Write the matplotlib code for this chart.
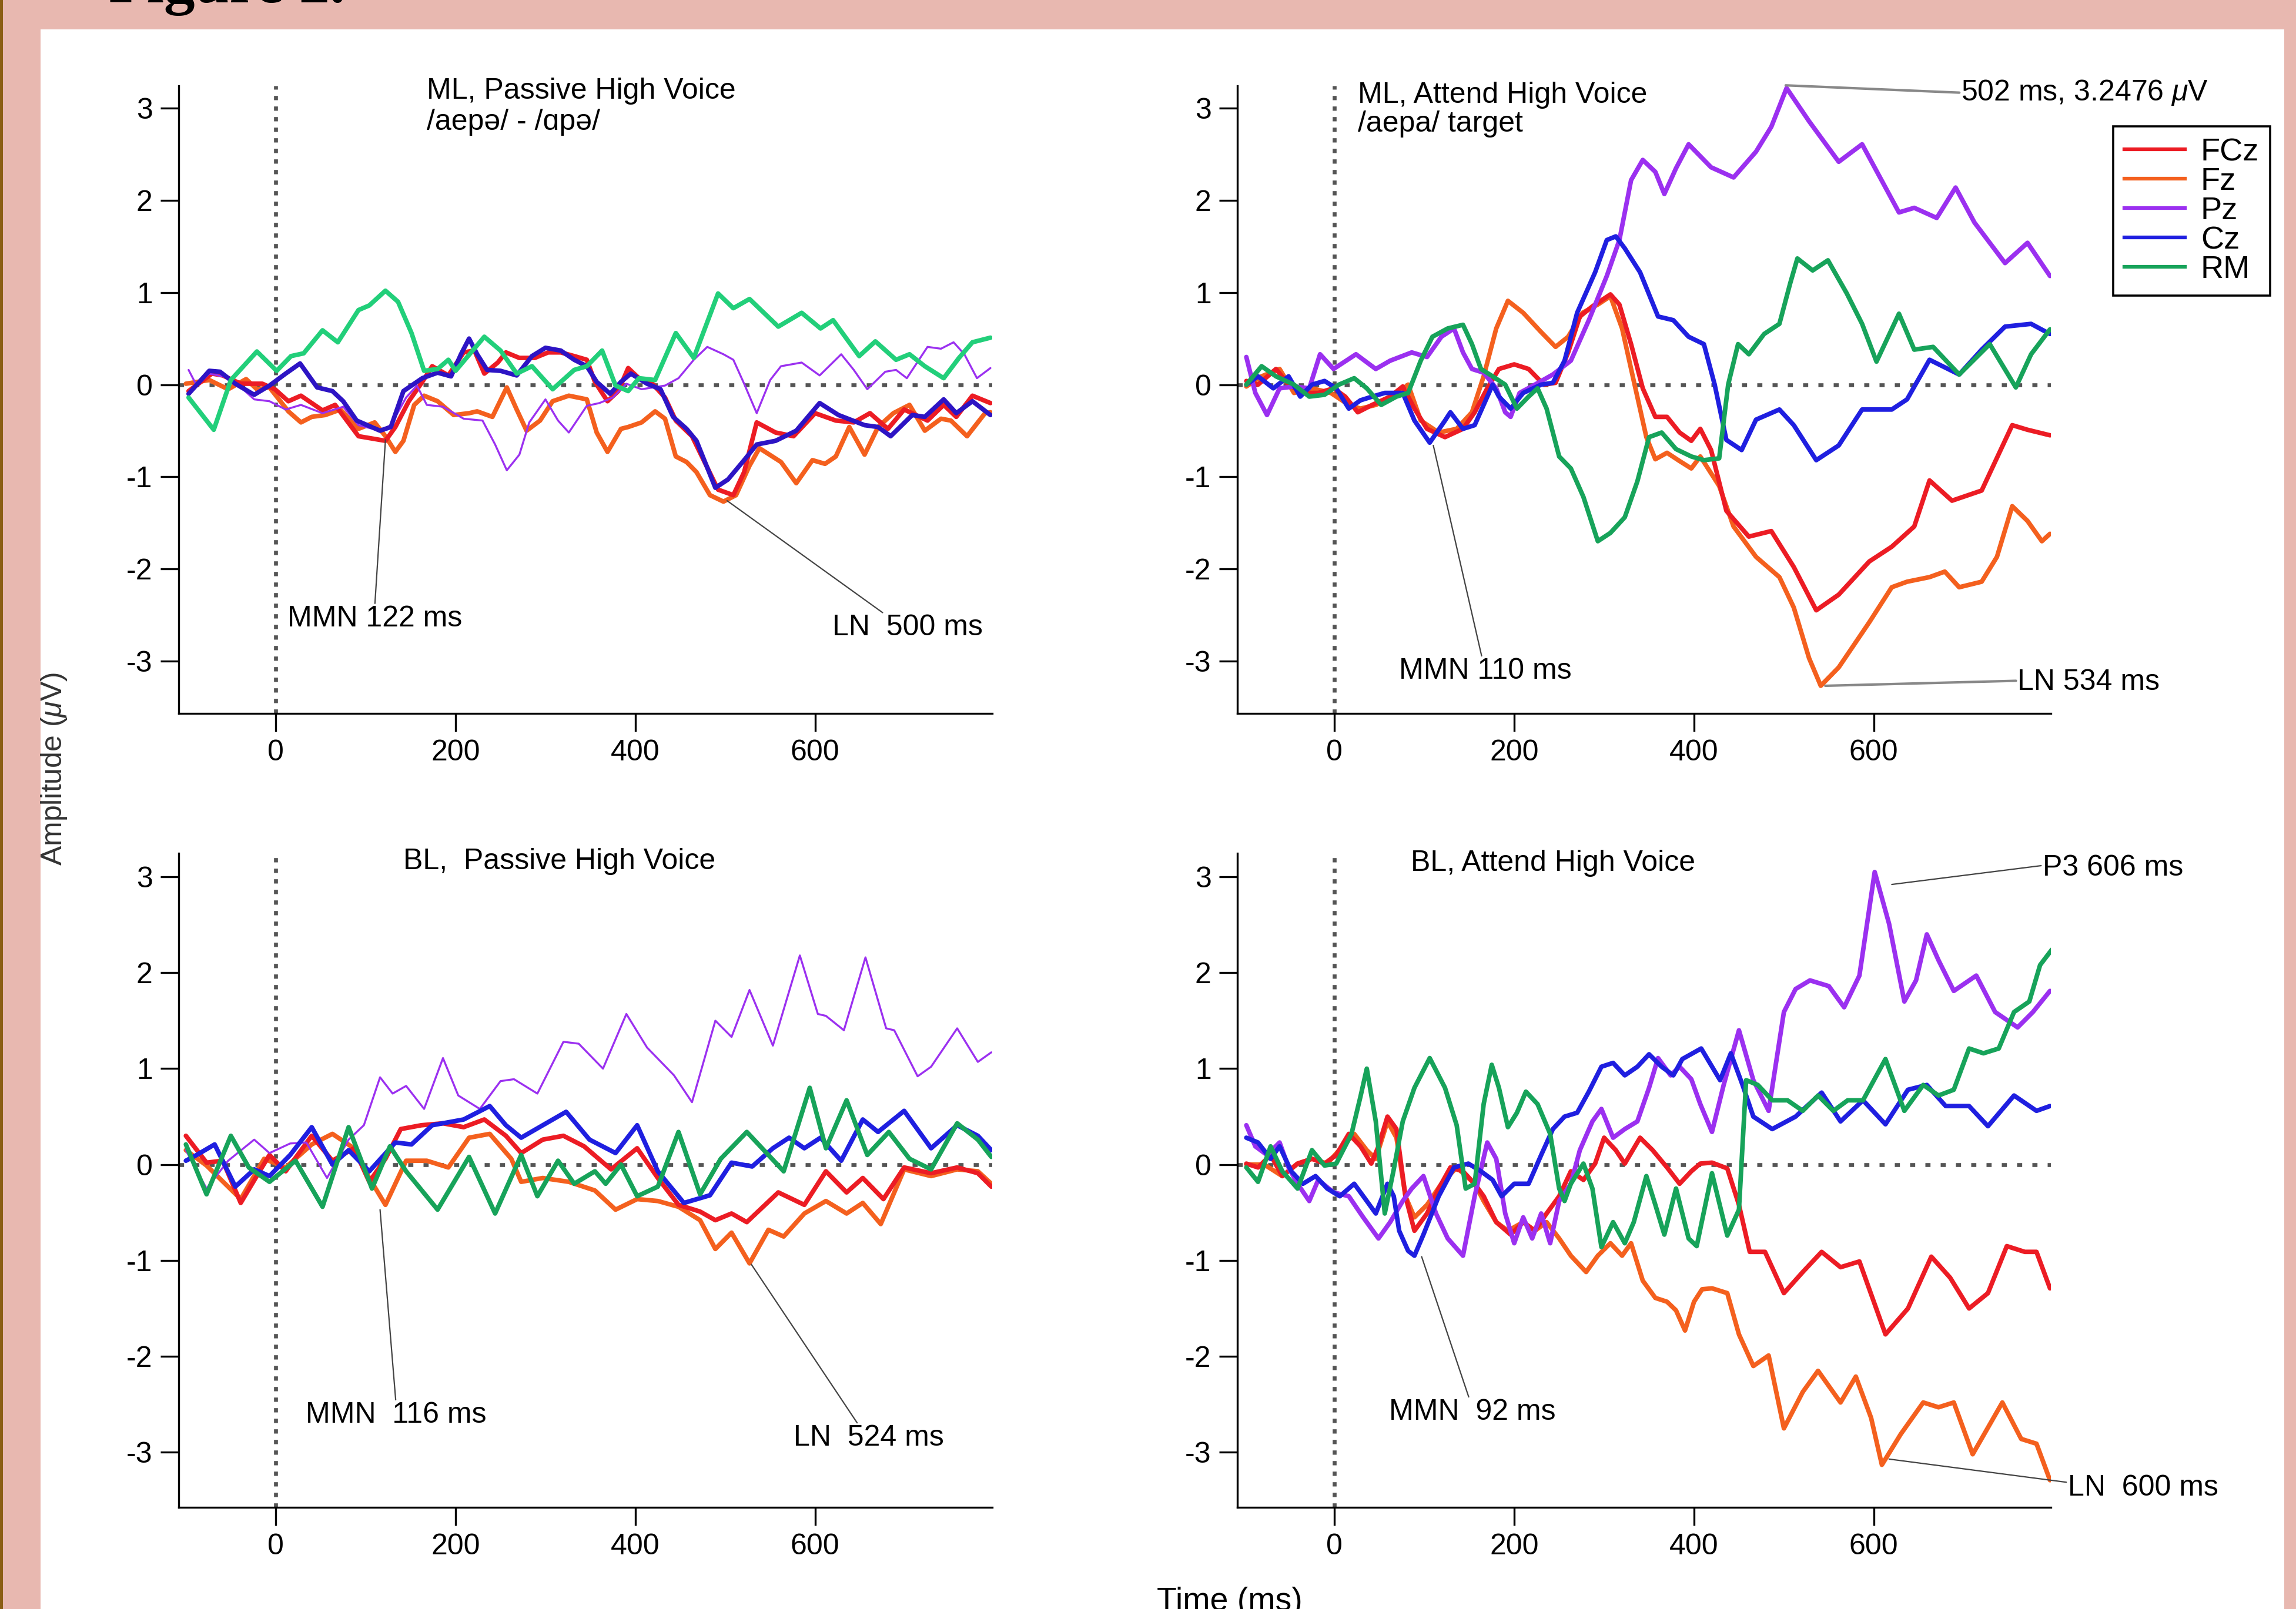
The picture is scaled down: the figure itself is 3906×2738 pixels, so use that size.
import matplotlib.pyplot as plt
import numpy as np
from matplotlib.lines import Line2D

plt.rcParams['font.family'] = ['Liberation Sans', 'DejaVu Sans']
plt.rcParams['axes.unicode_minus'] = False
plt.rcParams['mathtext.fontset'] = 'custom'
plt.rcParams['mathtext.it'] = 'Liberation Sans:italic'
plt.rcParams['mathtext.rm'] = 'Liberation Sans'

channels = ["FCz", "Fz", "Pz", "Cz", "RM"]
x_ticks = [0, 200, 400, 600]
y_ticks = [-3, -2, -1, 0, 1, 2, 3]

# ---- ML, passive high voice (time ms, amplitude uV) ----
tl_fcz = [(-97,-0.07),(-71,0.12),(-59,0.10),(-39,0.01),(-15,0.01),(-1,-0.05),(14,-0.18),(28,-0.12),(52,-0.28),(66,-0.22),
          (92,-0.56),(122,-0.61),(133,-0.46),(148,-0.18),(163,0.03),(174,0.20),(192,0.10),(209,0.35),(221,0.37),(232,0.12),
          (247,0.24),(256,0.35),(271,0.29),(288,0.29),(303,0.35),(317,0.35),(332,0.31),(346,0.27),(355,0.03),(369,-0.18),
          (381,-0.07),(392,0.18),(404,0.07),(419,0.01),(433,-0.14),(445,-0.39),(463,-0.56),(477,-0.84),(492,-1.14),(509,-1.20),
          (521,-0.95),(535,-0.41),(556,-0.52),(576,-0.56),(600,-0.31),(623,-0.39),(643,-0.41),(661,-0.31),(681,-0.48),(699,-0.27),
          (725,-0.39),(743,-0.22),(757,-0.35),(775,-0.12),(795,-0.20)]
tl_fz = [(-100,0.01),(-74,0.05),(-53,-0.05),(-33,0.06),(-21,-0.05),(-7,-0.03),(14,-0.29),(28,-0.41),(40,-0.35),(55,-0.33),
         (72,-0.27),(92,-0.48),(110,-0.41),(122,-0.56),(133,-0.73),(142,-0.61),(154,-0.22),(165,-0.12),(180,-0.18),(198,-0.33),
         (215,-0.31),(224,-0.29),(241,-0.35),(257,-0.03),(268,-0.27),(279,-0.50),(294,-0.39),(308,-0.18),(326,-0.12),(346,-0.16),
         (357,-0.52),(369,-0.73),(384,-0.48),(392,-0.46),(407,-0.41),(422,-0.29),(433,-0.37),(445,-0.78),(457,-0.84),(468,-0.95),
         (483,-1.20),(498,-1.27),(512,-1.20),(527,-0.88),(538,-0.69),(562,-0.84),(579,-1.07),(597,-0.82),(611,-0.86),(623,-0.78),
         (638,-0.46),(655,-0.76),(670,-0.46),(687,-0.31),(705,-0.22),(722,-0.50),(740,-0.37),(751,-0.39),(769,-0.56),(789,-0.31),
         (795,-0.30)]
tl_pz = [(-97,0.16),(-88,-0.01),(-74,0.12),(-50,0.07),(-24,-0.16),(-7,-0.18),(11,-0.27),(28,-0.22),(52,-0.31),(75,-0.24),
         (92,-0.44),(116,-0.50),(128,-0.44),(145,-0.14),(157,-0.01),(168,-0.22),(186,-0.24),(209,-0.37),(230,-0.39),(244,-0.65),
         (257,-0.93),(271,-0.76),(282,-0.41),(300,-0.16),(314,-0.39),(326,-0.52),(346,-0.23),(360,-0.20),(375,-0.14),(390,0.01),
         (407,-0.05),(433,-0.01),(448,0.07),(465,0.27),(480,0.41),(498,0.33),(509,0.27),(521,0.01),(535,-0.31),(550,0.05),
         (562,0.20),(585,0.24),(605,0.10),(629,0.33),(643,0.16),(658,-0.05),(678,0.14),(690,0.16),(702,0.07),(725,0.41),
         (740,0.39),(754,0.46),(766,0.33),(780,0.07),(795,0.18)]
tl_cz = [(-97,-0.10),(-74,0.15),(-62,0.14),(-45,0.01),(-24,-0.11),(-7,-0.01),(11,0.12),(27,0.23),(46,-0.03),(63,-0.07),
         (75,-0.18),(90,-0.39),(116,-0.50),(128,-0.46),(142,-0.07),(163,0.07),(180,0.13),(195,0.09),(206,0.33),(215,0.50),
         (224,0.33),(235,0.16),(250,0.15),(268,0.10),(285,0.31),(300,0.40),(317,0.37),(332,0.27),(346,0.20),(357,0.03),
         (372,-0.10),(384,0.03),(395,0.12),(413,0.01),(428,-0.05),(442,-0.35),(457,-0.48),(468,-0.61),(489,-1.12),(503,-1.03),
         (521,-0.82),(535,-0.65),(556,-0.61),(579,-0.50),(605,-0.20),(626,-0.33),(655,-0.44),(670,-0.46),(684,-0.56),(708,-0.33),
         (722,-0.35),(743,-0.16),(757,-0.31),(775,-0.18),(795,-0.33)]
tl_rm = [(-97,-0.14),(-69,-0.49),(-50,0.05),(-21,0.36),(1,0.15),(17,0.31),(31,0.34),(52,0.59),(69,0.46),(92,0.81),
         (104,0.86),(122,1.02),(136,0.90),(151,0.56),(165,0.15),(180,0.17),(192,0.27),(200,0.15),(232,0.52),(250,0.37),
         (268,0.12),(285,0.20),(308,-0.05),(332,0.16),(346,0.20),(363,0.37),(378,-0.01),(392,-0.07),(404,0.07),(422,0.05),
         (445,0.56),(465,0.29),(492,0.99),(509,0.83),(527,0.93),(559,0.63),(585,0.78),(606,0.61),(620,0.70),(649,0.31),
         (667,0.47),(690,0.27),(705,0.33),(722,0.20),(743,0.07),(760,0.29),(775,0.46),(795,0.51)]

# ---- ML, attend high voice ----
tr_fcz = [(-98,0.04),(-85,0.0),(-65,0.17),(-51,0.0),(-35,-0.09),(-18,-0.09),(-1,-0.04),(12,-0.13),(26,-0.30),(42,-0.22),
          (62,-0.13),(76,-0.02),(89,-0.26),(103,-0.48),(123,-0.57),(143,-0.48),(156,-0.30),(170,-0.04),(183,0.17),(200,0.22),
          (216,0.17),(233,0.0),(246,0.02),(260,0.35),(273,0.74),(287,0.85),(307,0.98),(317,0.87),(330,0.44),(343,-0.04),
          (357,-0.35),(370,-0.35),(384,-0.52),(397,-0.61),(407,-0.48),(419,-0.71),(436,-1.37),(461,-1.65),(486,-1.59),(511,-1.98),
          (536,-2.45),(561,-2.28),(595,-1.92),(620,-1.76),(645,-1.54),(662,-1.04),(687,-1.26),(720,-1.15),(754,-0.44),(771,-0.49),
          (796,-0.55)]
tr_fz = [(-98,-0.02),(-81,0.09),(-61,0.17),(-45,-0.09),(-25,-0.04),(-4,-0.09),(16,-0.22),(29,-0.26),(46,-0.22),(66,-0.13),
         (82,0.0),(96,-0.39),(116,-0.52),(136,-0.48),(153,-0.30),(166,0.09),(180,0.61),(193,0.91),(210,0.78),(230,0.57),
         (246,0.41),(260,0.52),(276,0.78),(293,0.87),(307,0.96),(320,0.61),(333,0.04),(347,-0.57),(357,-0.81),(370,-0.74),
         (384,-0.83),(397,-0.91),(407,-0.78),(428,-1.10),(444,-1.54),(469,-1.87),(495,-2.09),(511,-2.42),(528,-2.97),(541,-3.27),
         (561,-3.07),(595,-2.58),(620,-2.20),(637,-2.14),(662,-2.09),(679,-2.03),(695,-2.20),(720,-2.14),(737,-1.87),(754,-1.32),
         (771,-1.48),(787,-1.70),(796,-1.62)]
tr_pz = [(-98,0.30),(-88,-0.09),(-75,-0.33),(-61,-0.04),(-45,-0.02),(-28,-0.04),(-16,0.33),(-1,0.17),(24,0.33),(46,0.17),
         (62,0.26),(86,0.35),(103,0.30),(119,0.52),(133,0.61),(143,0.35),(153,0.17),(166,0.13),(180,-0.04),(190,-0.30),
         (196,-0.35),(206,-0.09),(223,0.0),(243,0.11),(263,0.26),(283,0.70),(303,1.18),(317,1.57),(330,2.22),(343,2.44),
         (357,2.31),(367,2.07),(380,2.35),(394,2.61),(419,2.36),(444,2.25),(469,2.53),(486,2.80),(503,3.22),(528,2.86),
         (561,2.42),(587,2.61),(628,1.87),(645,1.92),(670,1.81),(691,2.14),(712,1.76),(746,1.32),(771,1.54),(796,1.18)]
tr_cz = [(-98,0.0),(-85,0.09),(-68,-0.04),(-51,0.09),(-38,-0.13),(-25,0.0),(-11,0.04),(2,-0.04),(16,-0.26),(29,-0.17),
         (42,-0.13),(56,-0.09),(76,-0.09),(89,-0.39),(106,-0.63),(123,-0.39),(129,-0.30),(143,-0.48),(156,-0.44),(166,-0.22),
         (176,0.0),(183,-0.13),(196,-0.26),(210,-0.09),(230,0.0),(243,0.02),(256,0.26),(270,0.78),(290,1.22),(303,1.57),
         (313,1.61),(323,1.48),(340,1.22),(360,0.74),(377,0.70),(394,0.52),(411,0.44),(423,0.0),(436,-0.60),(453,-0.71),
         (469,-0.38),(495,-0.27),(511,-0.44),(536,-0.82),(561,-0.66),(587,-0.27),(620,-0.27),(637,-0.16),(662,0.27),(695,0.11),
         (720,0.38),(746,0.63),(775,0.66),(796,0.55)]
tr_rm = [(-98,0.0),(-81,0.20),(-65,0.09),(-45,0.0),(-28,-0.13),(-11,-0.11),(5,0.0),(22,0.07),(36,-0.04),(52,-0.22),
         (69,-0.13),(82,-0.09),(96,0.26),(109,0.52),(126,0.61),(143,0.65),(153,0.44),(163,0.17),(176,0.09),(190,0.0),
         (203,-0.26),(216,-0.13),(226,-0.04),(236,-0.26),(250,-0.78),(263,-0.91),(277,-1.22),(293,-1.70),(307,-1.61),(323,-1.44),
         (337,-1.05),(350,-0.57),(364,-0.52),(380,-0.70),(397,-0.78),(411,-0.82),(428,-0.80),(438,0.0),(449,0.44),(461,0.33),
         (478,0.55),(495,0.66),(507,1.10),(515,1.37),(532,1.24),(549,1.35),(570,0.99),(587,0.66),(603,0.25),(628,0.77),
         (645,0.38),(666,0.41),(695,0.11),(729,0.44),(758,-0.03),(775,0.33),(796,0.60)]

# ---- BL, passive high voice ----
bl_fcz = [(-100,0.30),(-77,0.02),(-59,0.04),(-39,-0.40),(-18,-0.07),(-7,0.10),(11,-0.07),(40,0.30),(63,0.04),(87,0.17),
          (104,-0.18),(122,0.06),(139,0.37),(162,0.41),(186,0.43),(209,0.39),(232,0.47),(256,0.30),(273,0.12),(297,0.26),
          (320,0.30),(343,0.19),(373,-0.05),(402,0.17),(425,-0.14),(448,-0.42),(472,-0.49),(489,-0.58),(507,-0.51),(524,-0.60),
          (559,-0.29),(588,-0.42),(612,-0.07),(635,-0.29),(653,-0.14),(676,-0.36),(699,-0.03),(729,-0.09),(758,-0.03),(781,-0.09),
          (796,-0.23)]
bl_fz = [(-100,0.15),(-77,-0.01),(-39,-0.36),(-13,0.06),(11,-0.03),(40,0.21),(63,0.32),(87,0.17),(104,-0.14),(122,-0.42),
         (145,0.04),(168,0.04),(192,-0.03),(215,0.28),(238,0.32),(262,0.06),(273,-0.18),(297,-0.14),(326,-0.18),(355,-0.27),
         (378,-0.47),(402,-0.36),(425,-0.38),(448,-0.44),(472,-0.58),(489,-0.88),(507,-0.71),(527,-1.03),(548,-0.68),(565,-0.75),
         (588,-0.51),(612,-0.38),(635,-0.51),(653,-0.40),(673,-0.62),(699,-0.05),(729,-0.12),(758,-0.05),(781,-0.07),(796,-0.20)]
bl_pz = [(-100,0.15),(-77,-0.25),(-53,0.04),(-24,0.26),(-7,0.12),(16,0.22),(34,0.23),(57,-0.14),(81,0.26),(98,0.41),
         (116,0.91),(130,0.74),(145,0.82),(165,0.58),(186,1.11),(203,0.72),(227,0.58),(250,0.87),(265,0.89),(291,0.74),
         (320,1.28),(337,1.26),(364,1.00),(390,1.57),(413,1.22),(443,0.93),(463,0.65),(489,1.50),(507,1.33),(527,1.82),
         (553,1.24),(583,2.18),(603,1.57),(612,1.55),(632,1.40),(656,2.16),(679,1.42),(688,1.40),(714,0.92),(729,1.02),
         (758,1.42),(781,1.07),(796,1.17)]
bl_cz = [(-100,0.04),(-88,0.10),(-68,0.21),(-45,-0.23),(-24,-0.05),(-7,-0.12),(16,0.10),(40,0.39),(63,0.0),(81,0.15),
         (104,-0.07),(133,0.23),(151,0.21),(174,0.41),(209,0.47),(238,0.61),(256,0.41),(273,0.28),(297,0.41),(323,0.55),
         (349,0.26),(378,0.12),(402,0.41),(425,-0.07),(454,-0.40),(483,-0.32),(507,0.02),(530,-0.02),(553,0.17),(571,0.28),
         (588,0.17),(606,0.28),(629,0.04),(653,0.47),(670,0.34),(699,0.56),(729,0.17),(758,0.41),(781,0.30),(796,0.15)]
bl_rm = [(-100,0.21),(-77,-0.31),(-50,0.30),(-30,-0.03),(-7,-0.18),(22,0.04),(52,-0.44),(81,0.39),(107,-0.25),(127,0.19),
         (145,-0.07),(180,-0.47),(215,0.08),(244,-0.51),(273,0.10),(291,-0.33),(314,0.04),(332,-0.20),(355,-0.07),(367,-0.20),
         (384,0.0),(402,-0.33),(425,-0.23),(448,0.34),(472,-0.31),(495,0.06),(524,0.34),(565,-0.07),(594,0.80),(612,0.17),
         (635,0.67),(658,0.10),(682,0.34),(705,0.06),(729,-0.05),(758,0.43),(781,0.26),(796,0.08)]

# ---- BL, attend high voice ----
br_fcz = [(-98,0.01),(-85,-0.03),(-71,0.10),(-58,-0.12),(-41,0.01),(-25,0.06),(-11,0.01),(2,0.10),(16,0.32),(29,0.19),
          (41,0.01),(49,0.19),(59,0.50),(69,0.37),(79,-0.33),(89,-0.69),(103,-0.51),(116,-0.25),(129,-0.03),(143,-0.07),
          (156,-0.20),(166,-0.33),(180,-0.60),(196,-0.73),(210,-0.60),(223,-0.69),(236,-0.51),(250,-0.33),(263,-0.07),(277,-0.16),
          (290,0.01),(300,0.28),(313,0.15),(323,0.01),(340,0.28),(354,0.15),(370,-0.03),(384,-0.20),(397,-0.07),(407,0.01),
          (420,0.02),(437,-0.04),(450,-0.42),(462,-0.91),(479,-0.91),(500,-1.34),(521,-1.12),(542,-0.91),(563,-1.07),(584,-1.01),
          (613,-1.77),(638,-1.50),(664,-0.96),(685,-1.18),(706,-1.50),(727,-1.34),(748,-0.85),(768,-0.91),(781,-0.91),(796,-1.29)]
br_fz = [(-98,0.0),(-78,0.0),(-58,-0.12),(-41,0.01),(-25,0.06),(-8,0.01),(9,0.19),(22,0.32),(36,0.15),(46,0.06),
         (59,0.45),(69,0.28),(79,-0.33),(89,-0.55),(103,-0.42),(119,-0.20),(136,-0.03),(156,-0.20),(166,-0.38),(180,-0.60),
         (193,-0.69),(210,-0.60),(223,-0.69),(236,-0.60),(250,-0.77),(263,-0.95),(280,-1.12),(293,-0.95),(307,-0.82),(320,-0.95),
         (330,-0.82),(343,-1.21),(357,-1.39),(370,-1.43),(380,-1.52),(390,-1.73),(400,-1.43),(409,-1.30),(420,-1.29),(437,-1.34),
         (450,-1.77),(466,-2.10),(483,-1.99),(500,-2.75),(521,-2.37),(538,-2.15),(563,-2.48),(580,-2.21),(597,-2.64),(609,-3.13),
         (630,-2.81),(655,-2.48),(672,-2.53),(689,-2.48),(710,-3.02),(743,-2.48),(764,-2.86),(781,-2.91),(796,-3.29)]
br_pz = [(-98,0.41),(-88,0.19),(-75,0.10),(-61,0.23),(-51,-0.03),(-41,-0.20),(-28,-0.38),(-18,-0.16),(-1,-0.29),(16,-0.33),
         (32,-0.55),(49,-0.77),(62,-0.60),(76,-0.38),(86,-0.25),(99,-0.12),(113,-0.51),(126,-0.77),(143,-0.95),(156,-0.33),
         (170,0.23),(180,0.06),(190,-0.51),(200,-0.82),(210,-0.55),(220,-0.77),(230,-0.51),(240,-0.82),(250,-0.38),(263,-0.20),
         (273,0.15),(287,0.45),(297,0.58),(310,0.28),(323,0.37),(337,0.45),(350,0.80),(360,1.11),(374,0.93),(384,1.02),
         (397,0.89),(407,0.63),(420,0.34),(433,0.83),(450,1.40),(466,0.88),(483,0.56),(500,1.59),(513,1.83),(529,1.92),
         (550,1.86),(567,1.64),(584,1.97),(601,3.05),(617,2.51),(634,1.70),(647,1.92),(659,2.40),(672,2.13),(689,1.81),
         (714,1.97),(735,1.59),(760,1.43),(777,1.59),(796,1.81)]
br_cz = [(-98,0.28),(-85,0.23),(-71,0.06),(-61,0.19),(-48,-0.07),(-35,-0.20),(-21,-0.12),(-8,-0.25),(6,-0.33),(22,-0.20),
         (36,-0.38),(46,-0.51),(59,-0.20),(66,-0.33),(72,-0.69),(82,-0.90),(89,-0.95),(99,-0.73),(116,-0.33),(133,-0.03),
         (149,0.01),(163,-0.07),(176,-0.16),(186,-0.33),(200,-0.20),(216,-0.20),(230,0.10),(243,0.37),(256,0.50),(270,0.54),
         (283,0.76),(297,1.02),(310,1.06),(323,0.93),(337,1.02),(350,1.15),(364,1.02),(377,0.93),(387,1.10),(408,1.21),
         (429,0.88),(441,1.16),(454,0.83),(466,0.50),(487,0.37),(513,0.50),(542,0.75),(563,0.45),(588,0.67),(613,0.42),
         (638,0.78),(659,0.83),(680,0.61),(706,0.61),(727,0.40),(756,0.72),(781,0.56),(796,0.61)]
br_rm = [(-98,-0.03),(-85,-0.18),(-71,0.19),(-58,-0.07),(-41,-0.25),(-25,0.15),(-11,-0.01),(2,0.01),(19,0.32),(29,0.71),
         (36,1.0),(46,0.45),(56,-0.51),(66,-0.05),(76,0.45),(89,0.80),(106,1.11),(123,0.80),(136,0.41),(146,-0.25),
         (156,-0.20),(166,0.63),(175,1.04),(183,0.80),(193,0.39),(203,0.54),(213,0.76),(226,0.63),(240,0.32),(250,-0.25),
         (256,-0.38),(263,-0.20),(277,0.01),(287,-0.25),(297,-0.86),(310,-0.60),(323,-0.82),(333,-0.60),(347,-0.12),(357,-0.42),
         (367,-0.73),(380,-0.25),(394,-0.77),(403,-0.85),(420,-0.09),(437,-0.74),(450,-0.47),(458,0.88),(471,0.83),(487,0.67),
         (504,0.67),(521,0.56),(538,0.72),(555,0.56),(571,0.67),(588,0.67),(613,1.10),(634,0.56),(655,0.83),(672,0.72),
         (689,0.78),(706,1.21),(722,1.16),(739,1.21),(756,1.59),(773,1.70),(785,2.08),(798,2.24)]

# ---- figure ----
W, H = 3906, 2738
fig = plt.figure(figsize=(W / 100, H / 100), dpi=100, facecolor='#e8b8b0')
fig.add_artist(plt.Rectangle((69 / W, 0), (3886 - 69) / W, 1 - 50 / H, transform=fig.transFigure,
                             facecolor='white', edgecolor='none', zorder=0))
fig.add_artist(plt.Rectangle((0, 0), 5 / W, 1, transform=fig.transFigure,
                             facecolor='#8b5e14', edgecolor='none', zorder=0))
fig.text(185 / W, 1 - 4 / H, "Figure 2.", fontfamily='Liberation Serif', fontweight='bold',
         fontsize=76, va='baseline', ha='left')

FS = 36
colors = {"FCz": '#ec1c24', "Fz": '#f4601e', "Pz": '#9b30f0', "Cz": '#1f1fe0', "RM": '#17a35a'}
tl_colors = dict(colors, Cz='#2d14c4', RM='#22cf7a')


def setup(rect):
    ax = fig.add_axes(rect)
    ax.set_facecolor('none')
    ax.set_xlim(-108, 797)
    ax.set_ylim(-3.57, 3.245)
    for s in ['top', 'right']:
        ax.spines[s].set_visible(False)
    for s in ['left', 'bottom']:
        ax.spines[s].set_linewidth(2.4)
    ax.set_xticks(x_ticks)
    ax.set_yticks(y_ticks)
    ax.tick_params(length=22, width=2.4, labelsize=FS, pad=10, direction='out')
    ax.axvline(0, color='#555555', lw=4.8, dashes=(1.1, 1.6), zorder=1)
    ax.axhline(0, color='#555555', lw=4.8, dashes=(1.3, 2.6), zorder=1)
    return ax


def draw(ax, series, cols, thin_pz=False):
    for name in ["Fz", "FCz", "Pz", "Cz", "RM"]:
        t, v = np.array(series[name]).T
        lw = 2.4 if (thin_pz and name == "Pz") else 5.6
        ax.plot(t, v, color=cols[name], lw=lw, solid_joinstyle='round', solid_capstyle='round', zorder=3)


def note(ax, label, xy, xytext, relpos, color='#444444', lw=1.6):
    ax.annotate(label, xy=xy, xytext=xytext, textcoords='data', ha='left', va='center', fontsize=FS,
                arrowprops=dict(arrowstyle='-', color=color, lw=lw, shrinkA=0, shrinkB=0, relpos=relpos),
                annotation_clip=False, zorder=4)


ax_tl = setup([304 / W, 1 - 1214 / H, 1384 / W, 1068 / H])
ax_tr = setup([2105 / W, 1 - 1214 / H, 1384 / W, 1068 / H])
ax_bl = setup([304 / W, 1 - 2564.5 / H, 1384 / W, 1112.5 / H])
ax_br = setup([2105 / W, 1 - 2564.5 / H, 1384 / W, 1112.5 / H])

draw(ax_tl, {"FCz": tl_fcz, "Fz": tl_fz, "Pz": tl_pz, "Cz": tl_cz, "RM": tl_rm}, tl_colors, thin_pz=True)
draw(ax_tr, {"FCz": tr_fcz, "Fz": tr_fz, "Pz": tr_pz, "Cz": tr_cz, "RM": tr_rm}, colors)
draw(ax_bl, {"FCz": bl_fcz, "Fz": bl_fz, "Pz": bl_pz, "Cz": bl_cz, "RM": bl_rm}, colors, thin_pz=True)
draw(ax_br, {"FCz": br_fcz, "Fz": br_fz, "Pz": br_pz, "Cz": br_cz, "RM": br_rm}, colors)

# panel titles
ax_tl.text(168, 3.19, "ML, Passive High Voice", fontsize=FS, va='center')
ax_tl.text(168, 2.85, "/aepə/ - /ɑpə/", fontsize=FS, va='center')
ax_tr.text(26, 3.14, "ML, Attend High Voice", fontsize=FS, va='center')
ax_tr.text(26, 2.83, "/aepa/ target", fontsize=FS, va='center')
ax_bl.text(142, 3.16, "BL,  Passive High Voice", fontsize=FS, va='center')
ax_br.text(85, 3.14, "BL, Attend High Voice", fontsize=FS, va='center')

# peak annotations
note(ax_tl, "MMN 122 ms", (122, -0.60), (13, -2.54), (0.5, 1.0))
note(ax_tl, "LN  500 ms", (502, -1.26), (619, -2.64), (0.35, 1.0))
note(ax_tr, r"502 ms, 3.2476 $\mu$V", (502, 3.25), (697, 3.17), (0.0, 0.5), color='#888888', lw=3)
note(ax_tr, "MMN 110 ms", (110, -0.66), (72, -3.11), (0.48, 1.0))
note(ax_tr, "LN 534 ms", (546, -3.27), (760, -3.23), (0.0, 0.55), color='#888888', lw=3)
note(ax_bl, "MMN  116 ms", (116, -0.47), (33, -2.61), (0.5, 1.0))
note(ax_bl, "LN  524 ms", (529, -1.04), (576, -2.85), (0.43, 1.0))
note(ax_br, "MMN  92 ms", (97, -0.96), (61, -2.58), (0.48, 1.0))
note(ax_br, "P3 606 ms", (620, 2.92), (788, 3.09), (0.0, 0.6))
note(ax_br, "LN  600 ms", (617, -3.07), (816, -3.37), (0.0, 0.7))

handles = [Line2D([], [], color=colors[c], lw=4.5) for c in channels]
leg = ax_tr.legend(handles, channels, loc='upper left', bbox_to_anchor=(1.0766, 0.935), borderaxespad=0,
                   fontsize=39, handlelength=1.9, handletextpad=0.5, labelspacing=0.0, borderpad=0.35,
                   frameon=True, fancybox=False, edgecolor='black', framealpha=1)
leg.get_frame().set_linewidth(2.6)

fig.text(92 / W, 1 - 1308 / H, r"Amplitude ($\mu$V)", rotation=90, fontsize=FS, color='#333333',
         ha='center', va='center')
fig.text(2092 / W, 1 - 2700 / H, "Time (ms)", fontsize=40, ha='center', va='top')

fig.savefig("out.png", dpi=100, facecolor=fig.get_facecolor())
